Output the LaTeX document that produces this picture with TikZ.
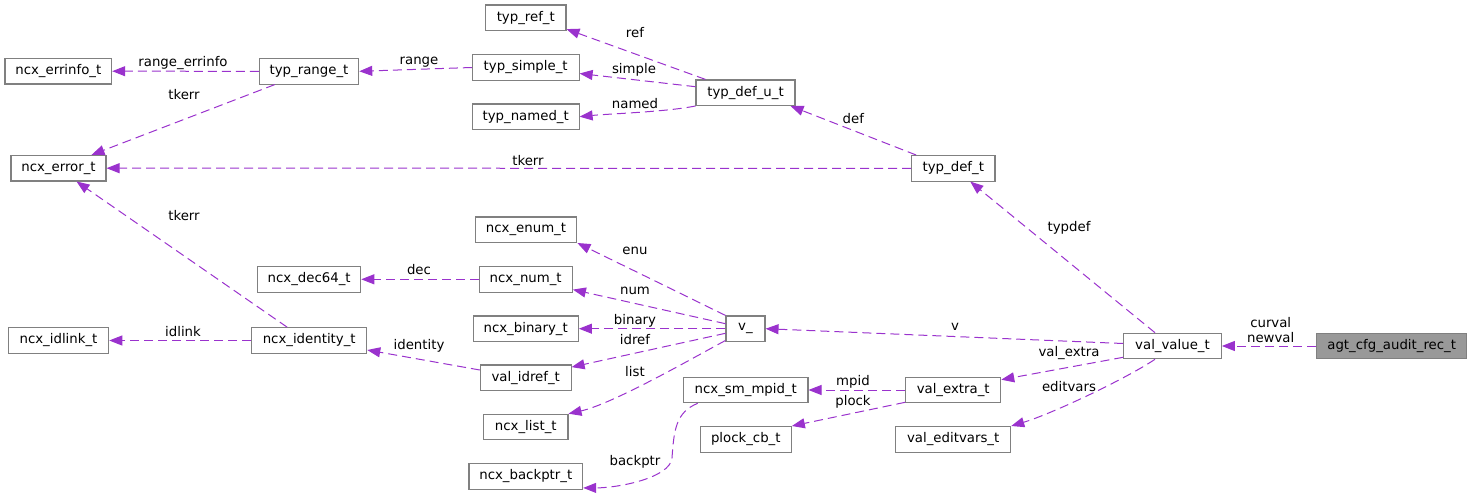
\documentclass[tikz,border=0pt]{standalone}
\usepackage{fontspec}
\setmainfont{DejaVu Sans}
\usetikzlibrary{arrows.meta,calc}
\definecolor{edgec}{HTML}{9A32CD}
\definecolor{boxc}{HTML}{808080}
\definecolor{rootfill}{HTML}{999999}
\begin{document}
\begin{tikzpicture}[x=1pt,y=-1pt,
  every node/.style={font=\fontsize{13.3}{14.6}\selectfont},
  box/.style={draw=boxc, line width=1.1pt, fill=white, minimum height=25.5pt, inner xsep=0pt, inner ysep=0pt, text=black},
  root/.style={box, fill=rootfill},
  edge/.style={draw=edgec, line width=1pt, dash pattern=on 9pt off 5pt, -{Triangle[length=13pt,width=10pt]}},
  lbl/.style={inner sep=0pt, text=black, align=center}]
\useasboundingbox (0,0) rectangle (1472,495);

% nodes
\node[box, minimum width=80.3pt]  (typ_ref_t)      at (525.8,17.8)  {typ\_ref\_t};
\node[box, minimum width=106.7pt] (typ_simple_t)   at (525.7,67.5)  {typ\_simple\_t};
\node[box, minimum width=106.7pt] (typ_named_t)    at (525.7,116.7) {typ\_named\_t};
\node[box, minimum width=99pt]    (typ_def_u_t)    at (745.5,92.7)  {typ\_def\_u\_t};
\node[box, minimum width=99.4pt]  (typ_range_t)    at (309,71.3)    {typ\_range\_t};
\node[box, minimum width=106.7pt] (ncx_errinfo_t)  at (58.3,71.2)   {ncx\_errinfo\_t};
\node[box, minimum width=95pt]    (ncx_error_t)    at (58.5,168.2)  {ncx\_error\_t};
\node[box, minimum width=83.3pt]  (typ_def_t)      at (953.3,168.3) {typ\_def\_t};
\node[box, minimum width=101.7pt] (ncx_enum_t)     at (526,229.7)   {ncx\_enum\_t};
\node[box, minimum width=103pt]   (ncx_dec64_t)    at (309.2,279.3) {ncx\_dec64\_t};
\node[box, minimum width=93.3pt]  (ncx_num_t)      at (525.7,279.3) {ncx\_num\_t};
\node[box, minimum width=100.4pt] (ncx_idlink_t)   at (58.5,340.5)  {ncx\_idlink\_t};
\node[box, minimum width=115pt]   (ncx_identity_t) at (309.2,340.5) {ncx\_identity\_t};
\node[box, minimum width=105.3pt] (ncx_binary_t)   at (525.7,328.7) {ncx\_binary\_t};
\node[box, minimum width=39pt]    (v_)             at (745.5,328.7) {v\_};
\node[box, minimum width=90.7pt]  (val_idref_t)    at (525.7,377.7) {val\_idref\_t};
\node[box, minimum width=84.3pt]  (ncx_list_t)     at (525.8,427)   {ncx\_list\_t};
\node[box, minimum width=113.7pt] (ncx_backptr_t)  at (525.8,476.3) {ncx\_backptr\_t};
\node[box, minimum width=124.3pt] (ncx_sm_mpid_t)  at (745.8,390)   {ncx\_sm\_mpid\_t};
\node[box, minimum width=91pt]    (plock_cb_t)     at (745.8,439.3) {plock\_cb\_t};
\node[box, minimum width=95pt]    (val_extra_t)    at (953.2,390)   {val\_extra\_t};
\node[box, minimum width=115pt]   (val_editvars_t) at (953.2,439.3) {val\_editvars\_t};
\node[box, minimum width=97.6pt]  (val_value_t)    at (1172.5,346)  {val\_value\_t};
\node[root, minimum width=150pt]  (agt)            at (1391.7,346)  {agt\_cfg\_audit\_rec\_t};

\coordinate (bp_mid) at (672,458);

% edges
\draw[edge] (typ_range_t.west) -- (ncx_errinfo_t.east);
\draw[edge] ([xshift=16pt]typ_range_t.south west) -- ([xshift=33pt]ncx_error_t.north);
\draw[edge] (typ_def_t.west) -- (ncx_error_t.east);
\draw[edge] ([xshift=-22pt]ncx_identity_t.north) -- ([xshift=18pt]ncx_error_t.south);
\draw[edge] (typ_simple_t.west) -- (typ_range_t.east);
\draw[edge] ([xshift=10pt]typ_def_u_t.north west) -- ([yshift=2pt]typ_ref_t.south east);
\draw[edge] ([yshift=6pt]typ_def_u_t.west) -- ([yshift=-6pt]typ_simple_t.east);
\draw[edge] (typ_def_u_t.south west) .. controls +(-30,6) and +(30,-3) .. (typ_named_t.east);
\draw[edge] ([xshift=5pt]typ_def_t.north west) -- ([xshift=-5pt]typ_def_u_t.south east);
\draw[edge] ([xshift=-17.5pt]val_value_t.north) -- ([xshift=17pt]typ_def_t.south);
\draw[edge] ([yshift=2.5pt]val_value_t.west) -- (v_.east);
\draw[edge] ([yshift=2pt]val_value_t.south west) -- ([yshift=-3pt]val_extra_t.north east);
\draw[edge] ([xshift=-17.5pt]val_value_t.south) .. controls +(-30,20) and +(40,-12) .. (val_editvars_t.north east);
\draw[edge] (agt.west) -- (val_value_t.east);
\draw[edge] (v_.north west) -- (ncx_enum_t.south east);
\draw[edge] ([yshift=5pt]v_.west) -- ([yshift=3pt]ncx_num_t.south east);
\draw[edge] (v_.west) -- (ncx_binary_t.east);
\draw[edge] ([yshift=-4.6pt]v_.west) -- ([yshift=-2.7pt]val_idref_t.north east);
\draw[edge] ([yshift=1.5pt]v_.south west) .. controls +(-30,16) and +(45,-10) .. (ncx_list_t.north east);
\draw[edge] (ncx_num_t.west) -- (ncx_dec64_t.east);
\draw[edge] ([yshift=7.7pt]val_idref_t.west) -- ([yshift=-9.5pt]ncx_identity_t.east);
\draw[edge] (ncx_identity_t.west) -- (ncx_idlink_t.east);
\draw[edge] (val_extra_t.west) -- (ncx_sm_mpid_t.east);
\draw[edge] ([yshift=1pt]val_extra_t.south west) -- (plock_cb_t.north east);
\draw[edge] ([xshift=14.6pt]ncx_sm_mpid_t.south west) .. controls +(-22,9) and +(2,-28) .. (bp_mid)
   .. controls +(-2,20) and +(35,0) .. ([yshift=1.7pt]ncx_backptr_t.south east);

% labels
\node[lbl] (l_range_errinfo) at (183,62.7)  {range\_errinfo};
\node[lbl] (l_tkerr1)        at (184,95)    {tkerr};
\node[lbl] (l_tkerr2)        at (528,161)   {tkerr};
\node[lbl] (l_tkerr3)        at (184,216)   {tkerr};
\node[lbl] (l_range)         at (419,62)    {range};
\node[lbl] (l_ref)           at (635,33)    {ref};
\node[lbl] (l_simple)        at (634,70)    {simple};
\node[lbl] (l_named)         at (635,104)   {named};
\node[lbl] (l_def)           at (853.3,118.3) {def};
\node[lbl] (l_typdef)        at (1069,228)  {typdef};
\node[lbl] (l_v)             at (955,327)   {v};
\node[lbl] (l_val_extra)     at (1069,353)  {val\_extra};
\node[lbl] (l_editvars)      at (1069,386.7) {editvars};
\node[lbl] (l_curval)        at (1270.7,330) {curval\\newval};
\node[lbl] (l_enu)           at (635,251)   {enu};
\node[lbl] (l_num)           at (635,291)   {num};
\node[lbl] (l_binary)        at (635,320.7) {binary};
\node[lbl] (l_idref)         at (635,340)   {idref};
\node[lbl] (l_list)          at (635,372)   {list};
\node[lbl] (l_dec)           at (419,270)   {dec};
\node[lbl] (l_identity)      at (419,346)   {identity};
\node[lbl] (l_idlink)        at (183,332)   {idlink};
\node[lbl] (l_mpid)          at (853,382)   {mpid};
\node[lbl] (l_plock)         at (853,402)   {plock};
\node[lbl] (l_backptr)       at (635,462)   {backptr};
\end{tikzpicture}
\end{document}
